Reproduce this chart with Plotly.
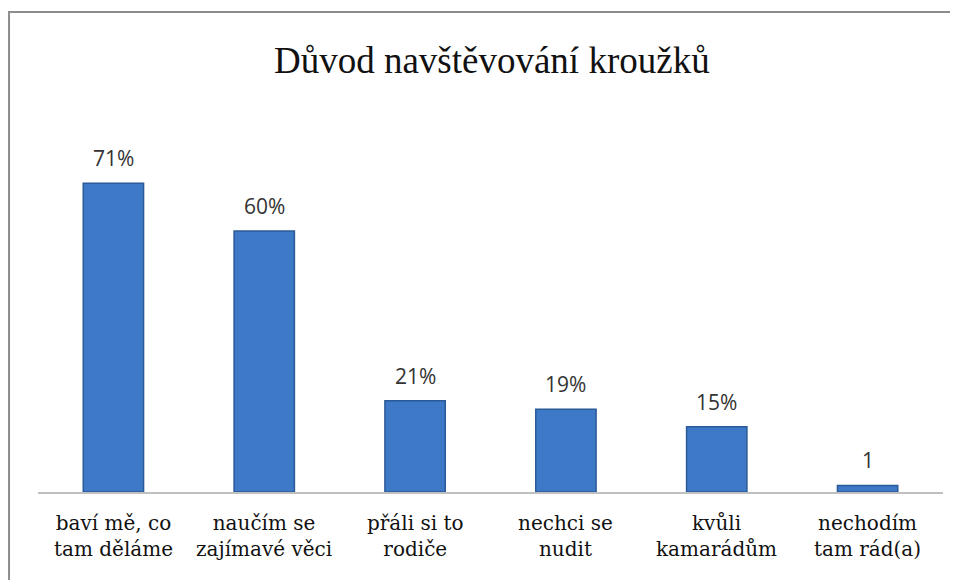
import plotly.graph_objects as go

# data
categories = ["baví mě, co<br>tam děláme", "naučím se<br>zajímavé věci", "přáli si to<br>rodiče",
              "nechci se<br>nudit", "kvůli<br>kamarádům", "nechodím<br>tam rád(a)"]
values = [71, 60, 21, 19, 15, 1.5]
labels = ["71%", "60%", "21%", "19%", "15%", "1"]

fig = go.Figure(go.Bar(
    x=categories, y=values,
    marker=dict(color="#3d79c6", line=dict(color="#2b5a98", width=1.5)),
))

# value labels above the bars, category names below the axis
for c, v, t in zip(categories, values, labels):
    fig.add_annotation(x=c, y=v, text=t, showarrow=False, yanchor="middle", yshift=25,
                       font=dict(family="Open Sans", size=21, color="#333333"))
    fig.add_annotation(x=c, y=0, text=c, showarrow=False, yanchor="top", yshift=-17,
                       font=dict(family="DejaVu Serif", size=20, color="#111111"))

fig.update_layout(
    width=958, height=580,
    margin=dict(l=30, r=23, t=136, b=96),
    plot_bgcolor="white", paper_bgcolor="white",
    bargap=0.6, showlegend=False,
    title=dict(text="Důvod navštěvování kroužků", x=0.505, xanchor="center", y=0.91, yanchor="middle",
               font=dict(family="Liberation Serif", size=37, color="#111111")),
    shapes=[dict(type="rect", xref="paper", yref="paper", x0=-0.032, x1=1.1, y0=-0.4, y1=1.379,
                 line=dict(color="#8c8c8c", width=2), fillcolor="rgba(0,0,0,0)", layer="below")],
    xaxis=dict(showline=True, linecolor="#c0c0c0", linewidth=2, ticks="", showgrid=False,
               showticklabels=False),
    yaxis=dict(range=[0, 80], visible=False, showgrid=False),
)

fig.write_html("out.html")
